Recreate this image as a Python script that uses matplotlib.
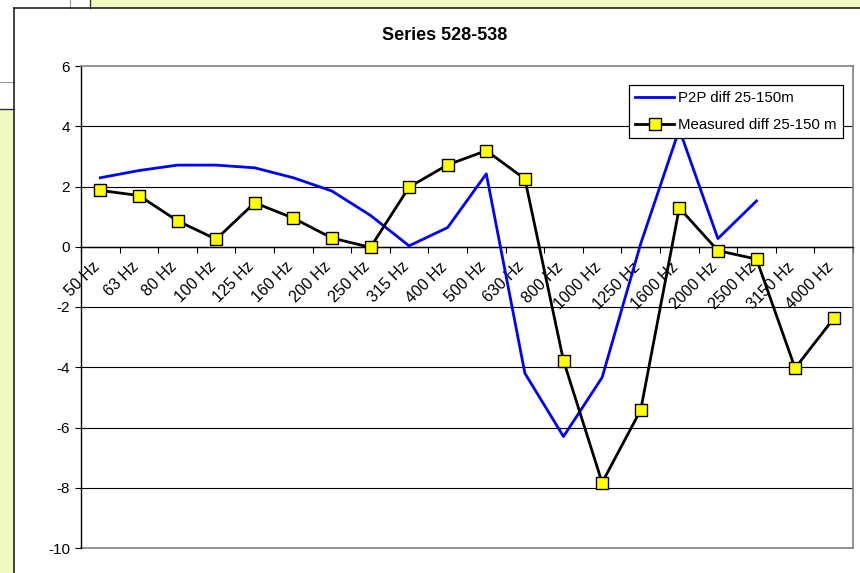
import matplotlib
matplotlib.use("Agg")
import matplotlib.pyplot as plt
import matplotlib.transforms as mtransforms
import numpy as np
from matplotlib.patches import Rectangle
from matplotlib.lines import Line2D

plt.rcParams['font.family'] = ['Liberation Sans', 'DejaVu Sans']

categories = ["50 Hz", "63 Hz", "80 Hz", "100 Hz", "125 Hz", "160 Hz", "200 Hz",
              "250 Hz", "315 Hz", "400 Hz", "500 Hz", "630 Hz", "800 Hz", "1000 Hz",
              "1250 Hz", "1600 Hz", "2000 Hz", "2500 Hz", "3150 Hz", "4000 Hz"]
p2p_diff = [2.29, 2.53, 2.71, 2.71, 2.62, 2.29, 1.85, 1.04, 0.03, 0.64, 2.42,
            -4.2, -6.3, -4.34, 0.1, 3.9, 0.27, 1.52, np.nan, np.nan]
measured_diff = [1.87, 1.70, 0.86, 0.25, 1.46, 0.95, 0.29, -0.02, 1.98, 2.72, 3.19,
                 2.25, -3.78, -7.83, -5.42, 1.29, -0.13, -0.41, -4.03, -2.38]
yticks = [-10, -8, -6, -4, -2, 0, 2, 4, 6]
title = "Series 528-538"
legend_labels = ["P2P diff 25-150m", "Measured diff 25-150 m"]

W, H = 860, 573
fig = plt.figure(figsize=(W / 100, H / 100), dpi=100)
fig.patch.set_facecolor('white')

yellow = '#F2F9BE'
def fx(x): return x / W
def fy(y): return 1 - y / H

# background panels (page around the chart)
fig.add_artist(Rectangle((fx(90), fy(8)), fx(860) - fx(90), fy(0) - fy(8),
                         transform=fig.transFigure, facecolor=yellow, edgecolor='none'))
fig.add_artist(Rectangle((fx(0), fy(573)), fx(14), fy(109) - fy(573),
                         transform=fig.transFigure, facecolor=yellow, edgecolor='none'))
fig.add_artist(Line2D([fx(70), fx(70)], [fy(0), fy(8)], transform=fig.transFigure, color='#999999', lw=0.8))
fig.add_artist(Line2D([fx(90), fx(90)], [fy(0), fy(8)], transform=fig.transFigure, color='#333333', lw=1))
fig.add_artist(Line2D([fx(0), fx(14)], [fy(82), fy(82)], transform=fig.transFigure, color='#999999', lw=0.8))
fig.add_artist(Line2D([fx(0), fx(14)], [fy(109), fy(109)], transform=fig.transFigure, color='#333333', lw=1))
# chart area border
fig.add_artist(Line2D([fx(14), fx(14)], [fy(8), fy(573)], transform=fig.transFigure, color='#222222', lw=1.2))
fig.add_artist(Line2D([fx(14), fx(860)], [fy(8), fy(8)], transform=fig.transFigure, color='#222222', lw=1.2))

ax = fig.add_axes([fx(81), fy(548), fx(853) - fx(81), fy(66) - fy(548)])
ax.set_facecolor('white')
n = len(categories)
x = np.arange(n) + 0.5
ax.set_xlim(0, n)
ax.set_ylim(-10, 6)

for yv in yticks:
    if yv in (6, -10):
        continue
    ax.axhline(yv, color='black', lw=0.8, zorder=1)
ax.axhline(-10, color='#808080', lw=1.2, zorder=1, clip_on=False)

ax.plot(x, p2p_diff, color='#0000FF', lw=2.0, zorder=3, label=legend_labels[0])
ax.plot(x, measured_diff, color='black', lw=2.0, zorder=4, marker='s', markersize=8,
        markerfacecolor='#FFFF00', markeredgecolor='black', markeredgewidth=1.0,
        label=legend_labels[1])

ax.spines['left'].set_color('black')
ax.spines['left'].set_linewidth(1.0)
ax.spines['bottom'].set_position(('data', 0))
ax.spines['bottom'].set_color('black')
ax.spines['bottom'].set_linewidth(1.0)
ax.spines['top'].set_color('#808080')
ax.spines['top'].set_linewidth(1.2)
ax.spines['right'].set_color('#808080')
ax.spines['right'].set_linewidth(1.2)

ax.set_yticks(yticks)
ax.set_yticklabels([str(v) for v in yticks])
ax.tick_params(axis='y', direction='out', length=4, width=0.8, pad=4, labelsize=11, colors='black')

ax.set_xticks(x)
ax.set_xticklabels(categories, rotation=45, ha='right', va='top', rotation_mode='anchor')
ax.tick_params(axis='x', which='major', length=0, pad=9, labelsize=11.5)
ax.set_xticks(np.arange(n + 1), minor=True)
ax.tick_params(axis='x', which='minor', direction='out', length=4, width=0.8)
shift = mtransforms.ScaledTranslation(-6 / 72, 0, fig.dpi_scale_trans)
for lab in ax.get_xticklabels():
    lab.set_transform(lab.get_transform() + shift)

fig.text(fx(445), fy(36), title, ha='center', va='center', fontsize=13, fontweight='bold')

leg = ax.legend(loc='upper right', bbox_to_anchor=(fx(843), fy(85)), bbox_transform=fig.transFigure,
                fontsize=10.8, frameon=True, fancybox=False, framealpha=1, edgecolor='black',
                handlelength=2.6, handletextpad=0.3, borderpad=0.4, labelspacing=0.85,
                borderaxespad=0)
leg.get_frame().set_linewidth(0.9)
leg.set_zorder(10)

fig.savefig('out.png', dpi=100, facecolor=fig.get_facecolor())
